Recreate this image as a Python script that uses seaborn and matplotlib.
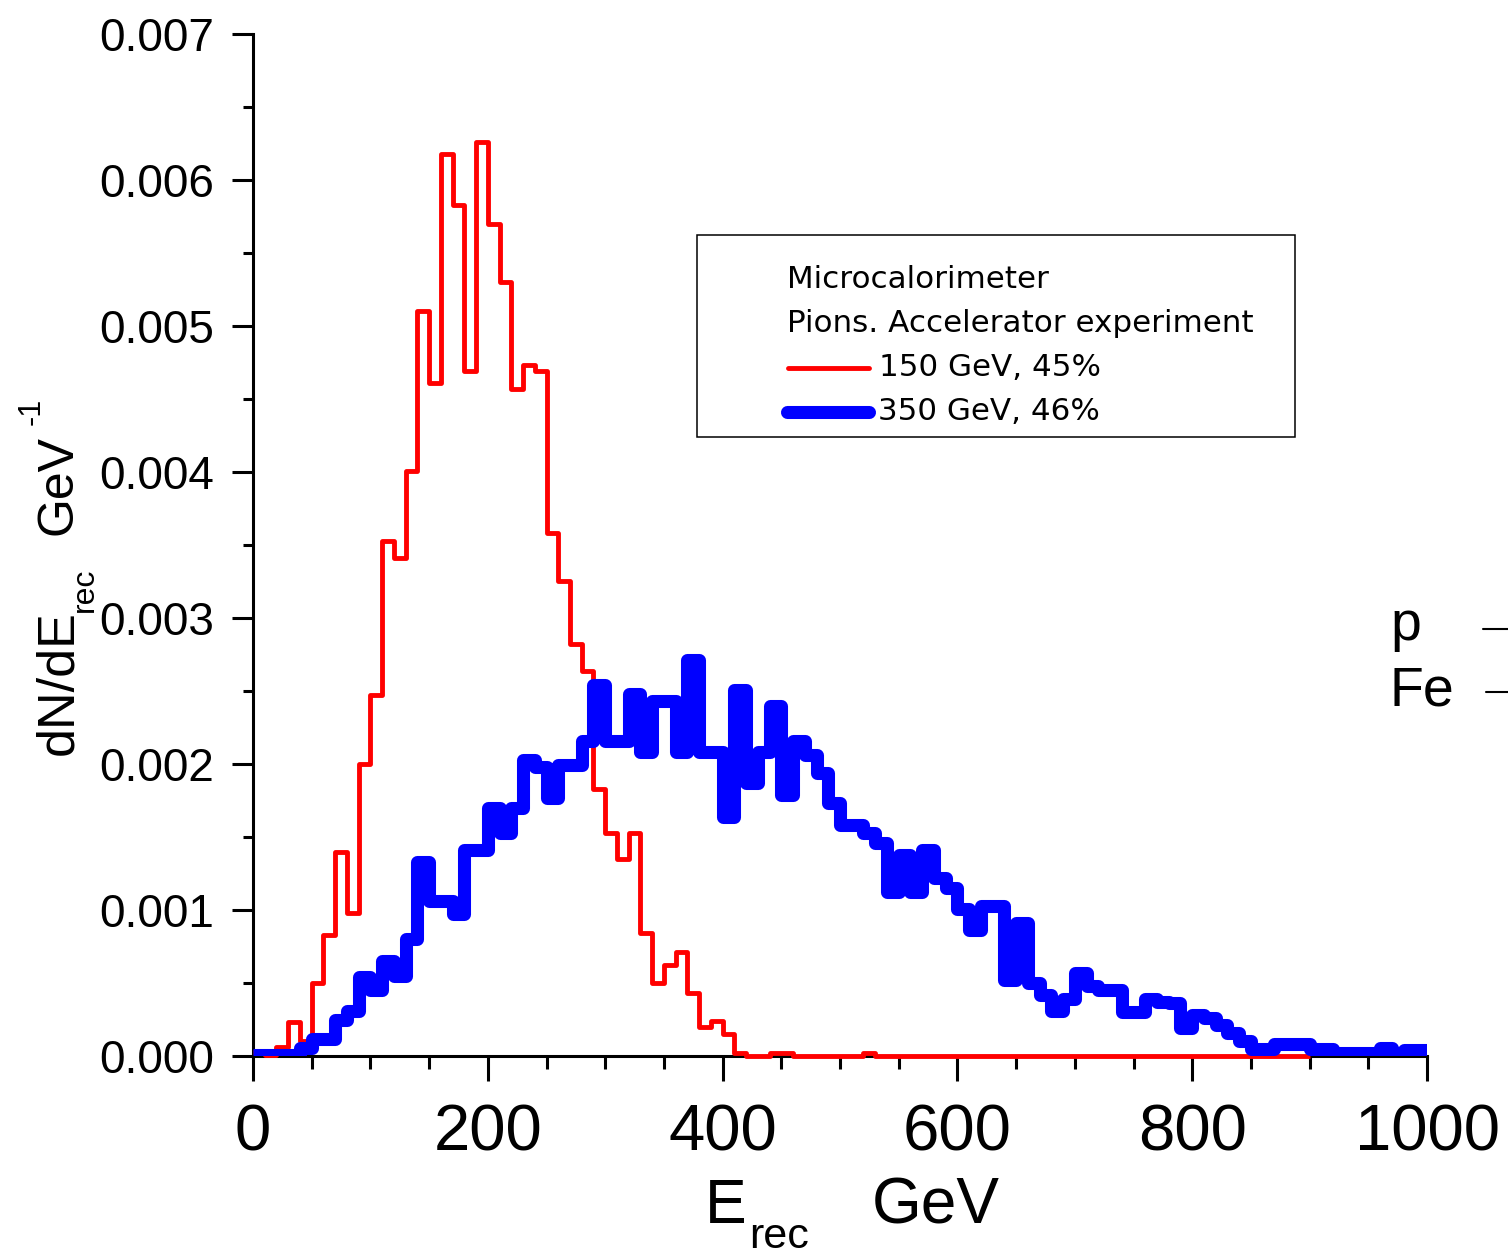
import numpy as np
import pandas as pd
import matplotlib
matplotlib.use("Agg")
import matplotlib.pyplot as plt
from matplotlib.ticker import MultipleLocator, FormatStrFormatter
from matplotlib.lines import Line2D
from matplotlib.patches import Rectangle
import seaborn as sns

# Histogram bin width in GeV
bin_width = 10

# 150 GeV pions: dN/dE per 10 GeV bin, from 0 to 900 GeV
pion150 = [
    0.00003, 0.00001, 0.00006, 0.000235, 0.0001, 0.0005, 0.00083, 0.0014, 0.00098, 0.002,
    0.00247, 0.00353, 0.00341, 0.00401, 0.0051, 0.00461, 0.00618, 0.00583, 0.00469, 0.00626,
    0.0057, 0.0053, 0.00457, 0.00473, 0.00469, 0.00358, 0.00325, 0.00282, 0.00264, 0.00183,
    0.00153, 0.00135, 0.00153, 0.00084, 0.0005, 0.00062, 0.00071, 0.00043, 0.0002, 0.00024,
    0.00015, 0.00002, 0.0, 0.0, 0.00002, 0.00002, 0.0, 0.0, 0.0, 0.0,
    0.0, 0.0, 0.00002, 0.0, 0.0, 0.0, 0.0, 0.0, 0.0, 0.0,
    0.0, 0.0, 0.0, 0.0, 0.0, 0.0, 0.0, 0.0, 0.0, 0.0,
    0.0, 0.0, 0.0, 0.0, 0.0, 0.0, 0.0, 0.0, 0.0, 0.0,
    0.0, 0.0, 0.0, 0.0, 0.0, 0.0, 0.0, 0.0, 0.0, 0.0,
]

# 350 GeV pions: dN/dE per 10 GeV bin, from 0 to 1000 GeV
pion350 = [
    0.00001, 0.00001, 0.00001, 0.00001, 0.000055, 0.000116, 0.000116, 0.00025, 0.00031, 0.00054,
    0.00045, 0.00065, 0.00055, 0.0008, 0.00133, 0.00106, 0.00106, 0.00097, 0.00141, 0.00141,
    0.0017, 0.00153, 0.0017, 0.00203, 0.00198, 0.00177, 0.00199, 0.00199, 0.00216, 0.00254,
    0.00216, 0.00216, 0.00248, 0.00208, 0.00243, 0.00243, 0.00208, 0.00271, 0.00208, 0.00208,
    0.00164, 0.00251, 0.00187, 0.00208, 0.0024, 0.00179, 0.00216, 0.00206, 0.00194, 0.00173,
    0.00158, 0.00158, 0.00153, 0.00146, 0.00112, 0.00138, 0.00112, 0.00141, 0.00122, 0.00115,
    0.00101, 0.00086, 0.00103, 0.00103, 0.00052, 0.00091, 0.0005, 0.00042, 0.00031, 0.00039,
    0.00057, 0.00048, 0.00045, 0.00045, 0.0003, 0.0003, 0.00039, 0.00037, 0.00036, 0.00019,
    0.00028, 0.00026, 0.00021, 0.00016, 0.0001, 0.00005, 0.00005, 0.00008, 0.00008, 0.00008,
    0.00005, 0.00005, 0.00002, 0.00002, 0.00002, 0.00002, 0.000055, 0.00001, 0.00004, 0.00004,
]

x_ticks = [0, 200, 400, 600, 800, 1000]
y_ticks = [0.000, 0.001, 0.002, 0.003, 0.004, 0.005, 0.006, 0.007]

series_labels = ["150 GeV, 45%", "350 GeV, 46%"]
legend_title = ["Microcalorimeter", "Pions. Accelerator experiment"]

sns.set_style("ticks")
plt.rcParams["font.family"] = ["Liberation Sans", "DejaVu Sans"]
plt.rcParams["text.color"] = "black"
plt.rcParams["axes.labelcolor"] = "black"
plt.rcParams["xtick.color"] = "black"
plt.rcParams["ytick.color"] = "black"

W, H = 1508, 1258
fig = plt.figure(figsize=(W / 100, H / 100), dpi=100)
fig.patch.set_facecolor("white")


def fx(px):
    return px / W


def fy(py):
    return 1 - py / H


ax = fig.add_axes([fx(253), fy(1056), 1174 / W, 1022 / H])
ax.set_facecolor("white")


def step_hist(values, color, lw, z, clip):
    vals = [float(v) for v in values]
    n = len(vals)
    edges = [i * bin_width for i in range(n + 1)]
    frame = pd.DataFrame({
        "E": [i * bin_width + bin_width / 2 for i in range(n)],
        "dN": vals,
    })
    sns.histplot(data=frame, x="E", weights="dN", bins=edges, element="step",
                 fill=False, stat="count", color=color, ax=ax)
    line = ax.lines[-1]
    line.set_linewidth(lw)
    line.set_zorder(z)
    line.set_clip_on(clip)
    line.set_solid_joinstyle("round")
    line.set_solid_capstyle("butt")
    return line


step_hist(pion150, "#ff0000", 3.5, 3, False)
step_hist(pion350, "#0000ff", 9.4, 4, True)

ax.set_xlim(0, 1000)
ax.set_ylim(0, 0.007)
ax.set_xticks(x_ticks)
ax.set_yticks(y_ticks)
ax.xaxis.set_minor_locator(MultipleLocator(50))
ax.yaxis.set_minor_locator(MultipleLocator(0.0005))
ax.yaxis.set_major_formatter(FormatStrFormatter("%.3f"))
ax.set_xlabel("")
ax.set_ylabel("")

for side in ("top", "right"):
    ax.spines[side].set_visible(False)
for side in ("left", "bottom"):
    ax.spines[side].set_linewidth(2.2)
    ax.spines[side].set_color("black")

ax.tick_params(axis="x", which="major", direction="out", length=18, width=2.2,
               labelsize=47, pad=16, colors="black")
ax.tick_params(axis="x", which="minor", direction="out", length=9, width=2.2)
ax.tick_params(axis="y", which="major", direction="out", length=15, width=2.2,
               labelsize=33, pad=13, colors="black")
ax.tick_params(axis="y", which="minor", direction="out", length=7, width=2.2)

# Axis titles, set piecewise so the subscript and superscript sit as printed
fig.text(fx(705), fy(1223), "E", fontsize=45, ha="left", va="baseline")
fig.text(fx(749), fy(1257), "rec", fontsize=31, ha="left", va="bottom")
fig.text(fx(872), fy(1223), "GeV", fontsize=46, ha="left", va="baseline")

rot = dict(rotation=90, rotation_mode="anchor", ha="left", va="baseline")
fig.text(fx(72), fy(755), "dN/dE", fontsize=37.5, **rot)
fig.text(fx(93), fy(612), "rec", fontsize=23, **rot)
fig.text(fx(72), fy(535), "GeV", fontsize=36, **rot)
fig.text(fx(40), fy(425), "-1", fontsize=22, **rot)

# Legend box with its title lines and the two series keys
fig.add_artist(Rectangle((fx(697), fy(437)), 598 / W, 202 / H, transform=fig.transFigure,
                         fill=False, edgecolor="black", linewidth=1.1))
legend_font = ["DejaVu Sans"]
fs = 22.3
fig.text(fx(787), fy(280), legend_title[0], fontsize=fs, family=legend_font,
         va="center", ha="left", color="black")
fig.text(fx(787), fy(324), legend_title[1], fontsize=fs, family=legend_font,
         va="center", ha="left", color="black")
fig.add_artist(Line2D([fx(788), fx(869)], [fy(368), fy(368)], transform=fig.transFigure,
                      color="#ff0000", linewidth=3.5, solid_capstyle="round"))
fig.add_artist(Line2D([fx(787), fx(869)], [fy(412), fy(412)], transform=fig.transFigure,
                      color="#0000ff", linewidth=9.4, solid_capstyle="round"))
fig.text(fx(879), fy(368), series_labels[0], fontsize=fs, family=legend_font,
         va="center", ha="left", color="black")
fig.text(fx(878), fy(412), series_labels[1], fontsize=fs, family=legend_font,
         va="center", ha="left", color="black")

# Neighbouring key entries at the right margin
fig.text(fx(1390), fy(640), "p", fontsize=40, va="baseline", ha="left", color="black")
fig.text(fx(1390), fy(705), "Fe", fontsize=40, va="baseline", ha="left", color="black")
fig.add_artist(Line2D([fx(1483), fx(1510)], [fy(629), fy(629)], transform=fig.transFigure,
                      color="black", linewidth=1.5))
fig.add_artist(Line2D([fx(1486), fx(1510)], [fy(692), fy(692)], transform=fig.transFigure,
                      color="black", linewidth=1.5))

fig.savefig("out.png", dpi=100, facecolor="white")
